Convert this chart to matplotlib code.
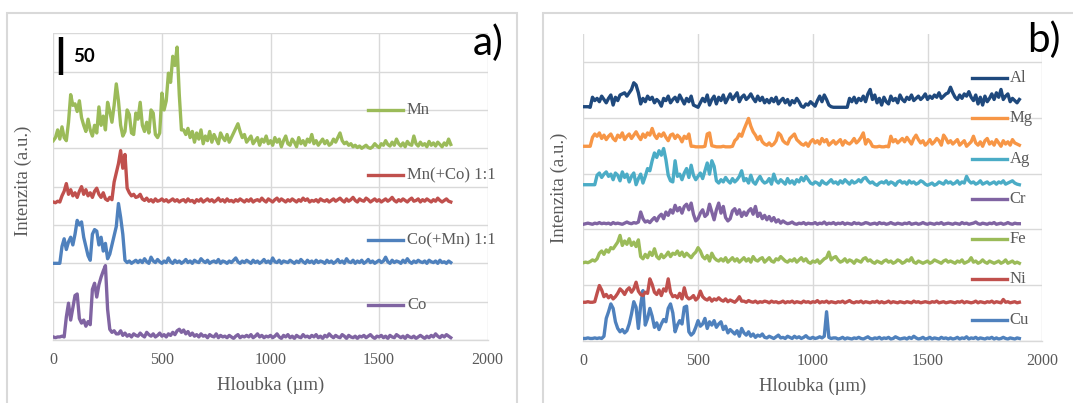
import numpy as np
import matplotlib
matplotlib.use("Agg")
import matplotlib.pyplot as plt
from matplotlib.lines import Line2D
from matplotlib.patches import Rectangle

# ---------------- data: panel a (depth step 10 um, intensities in a.u.) ----------------
mn = [
    10, 14, 24, 12, 28, 14, 10, 34, 70, 56,
    58, 48, 62, 40, 30, 22, 38, 24, 16, 30,
    20, 54, 30, 42, 24, 60, 48, 34, 56, 84,
    62, 30, 16, 22, 50, 44, 20, 18, 46, 38,
    60, 30, 22, 34, 20, 50, 46, 18, 14, 20,
    72, 50, 62, 98, 86, 120, 108, 132, 70, 24,
    24, 18, 26, 14, 22, 8, 20, 12, 24, 6,
    16, 10, 22, 8, 18, 12, 6, 20, 14, 10,
    18, 8, 14, 20, 26, 32, 22, 14, 18, 8,
    12, 16, 6, 10, 14, 4, 12, 8, 16, 6,
    10, 4, 14, 8, 12, 2, 10, 16, 6, 4,
    12, 8, 2, 14, 6, 10, 4, 12, 8, 18,
    6, 10, 4, 8, 12, 6, 10, 4, 6, 12,
    8, 14, 20, 10, 6, 8, 4, 6, 2, 4,
    1, 3, 0, 2, 4, 1, 0, 2, 6, 3,
    1, 6, 4, 10, 5, 3, 8, 4, 12, 6,
    3, 7, 2, 9, 5, 4, 16, 6, 3, 8,
    4, 6, 2, 9, 4, 7, 3, 8, 5, 2,
    7, 4, 12, 5,
]
mn_co = [
    2, 1, 3, 2, 10, 16, 26, 12, 18, 10,
    14, 8, 16, 22, 12, 18, 10, 14, 8, 16,
    20, 12, 8, 14, 6, 4, 8, 5, 28, 40,
    52, 69, 46, 64, 20, 14, 10, 12, 8, 9,
    12, 6, 4, 7, 3, 5, 2, 6, 3, 4,
    6, 3, 5, 2, 4, 6, 3, 5, 2, 4,
    5, 2, 6, 3, 4, 1, 5, 3, 6, 2,
    4, 6, 3, 5, 2, 4, 7, 3, 5, 2,
    6, 3, 4, 2, 5, 3, 6, 4, 2, 5,
    3, 6, 2, 4, 5, 3, 7, 4, 2, 6,
    4, 2, 5, 7, 3, 6, 4, 2, 5, 3,
    6, 4, 2, 5, 3, 7, 4, 6, 2, 4,
    3, 5, 2, 6, 4, 3, 5, 2, 4, 6,
    3, 5, 7, 4, 2, 6, 3, 5, 8, 4,
    2, 6, 4, 3, 7, 5, 2, 4, 6, 3,
    5, 2, 4, 6, 3, 5, 8, 4, 2, 5,
    3, 6, 4, 2, 5, 7, 3, 4, 6, 2,
    5, 3, 6, 4, 2, 5, 3, 7, 4, 2,
    4, 6, 3, 2,
]
co_mn = [
    2, 2, 2, 2, 24, 34, 20, 30, 36, 26,
    40, 58, 52, 56, 36, 24, 12, 6, 40, 46,
    44, 26, 36, 18, 28, 8, 14, 26, 38, 50,
    80, 62, 40, 6, 3, 5, 2, 4, 6, 3,
    6, 3, 8, 4, 2, 10, 5, 3, 7, 4,
    2, 5, 3, 9, 4, 2, 6, 3, 5, 2,
    4, 7, 3, 5, 2, 6, 4, 3, 8, 5,
    3, 6, 2, 4, 5, 3, 7, 2, 5, 4,
    2, 5, 3, 6, 9, 4, 2, 5, 3, 6,
    4, 2, 6, 3, 5, 2, 4, 7, 3, 5,
    2, 9, 4, 3, 6, 2, 5, 4, 3, 6,
    4, 2, 5, 3, 7, 4, 2, 6, 3, 5,
    2, 6, 3, 5, 4, 2, 6, 3, 5, 2,
    4, 7, 3, 5, 2, 8, 4, 3, 6, 2,
    5, 3, 6, 2, 4, 7, 3, 5, 2, 4,
    6, 3, 5, 10, 4, 2, 6, 3, 5, 4,
    2, 6, 3, 8, 4, 2, 5, 3, 6, 4,
    3, 5, 2, 6, 4, 3, 5, 2, 6, 3,
    4, 2, 5, 3,
]
co = [
    4, 3, 4, 4, 5, 4, 30, 48, 26, 42,
    58, 60, 28, 22, 26, 18, 24, 20, 66, 74,
    56, 72, 82, 90, 97, 40, 14, 10, 12, 8,
    8, 12, 6, 9, 5, 7, 4, 8, 6, 5,
    9, 6, 4, 10, 7, 5, 8, 4, 6, 9,
    5, 7, 4, 8, 6, 10, 7, 12, 14, 10,
    13, 8, 11, 6, 9, 5, 7, 4, 8, 5,
    6, 3, 7, 5, 4, 8, 3, 6, 4, 5,
    3, 6, 4, 2, 5, 7, 3, 5, 4, 6,
    4, 7, 3, 5, 8, 4, 6, 3, 5, 4,
    6, 3, 5, 8, 4, 2, 6, 4, 7, 3,
    5, 2, 6, 4, 3, 7, 4, 5, 3, 6,
    4, 7, 3, 5, 2, 6, 4, 8, 5, 3,
    6, 4, 3, 7, 5, 2, 6, 4, 3, 5,
    2, 5, 4, 6, 3, 5, 7, 4, 2, 5,
    4, 6, 3, 5, 2, 6, 4, 3, 7, 5,
    3, 5, 2, 6, 4, 3, 5, 2, 4, 6,
    4, 2, 5, 3, 6, 4, 8, 5, 3, 6,
    4, 7, 5, 3,
]

# ---------------- data: panel b (depth step 10 um, intensities in a.u.) ----------------
al = [
    5, 5, 5, 4, 22, 16, 20, 14, 24, 18,
    12, 20, 26, 8, 22, 16, 26, 28, 30, 24,
    30, 36, 48, 44, 30, 10, 20, 14, 24, 18,
    22, 12, 18, 14, 6, 20, 16, 24, 12, 18,
    22, 14, 26, 18, 10, 20, 14, 24, 8, 6,
    4, 12, 20, 14, 26, 8, 18, 24, 10, 22,
    16, 26, 12, 20, 28, 18, 24, 30, 14, 22,
    26, 18, 22, 28, 20, 14, 24, 16, 22, 12,
    18, 12, 20, 14, 22, 10, 16, 20, 12, 18,
    8, 16, 12, 20, 14, 6, 4, 10, 8, 14,
    10, 6, 16, 24, 14, 26, 18, 8, 5, 4,
    4, 4, 4, 4, 4, 4, 20, 14, 22, 12,
    20, 16, 24, 14, 28, 36, 18, 26, 12, 20,
    8, 22, 14, 10, 24, 16, 20, 12, 26, 18,
    14, 22, 18, 26, 16, 20, 24, 18, 22, 28,
    18, 24, 20, 26, 22, 30, 20, 24, 28, 30,
    40, 30, 22, 18, 26, 20, 28, 24, 32, 22,
    16, 26, 10, 22, 8, 24, 14, 20, 28, 18,
    30, 22, 36, 18, 24, 28, 14, 20, 16, 12,
    18,
]
mg = [
    4, 4, 4, 4, 20, 26, 22, 28, 18, 24,
    16, 22, 26, 18, 14, 24, 20, 28, 16, 22,
    26, 18, 24, 30, 22, 16, 26, 20, 28, 24,
    36, 24, 18, 26, 22, 28, 20, 14, 24, 26,
    18, 24, 20, 12, 22, 18, 26, 4, 4, 3,
    3, 3, 3, 4, 26, 28, 5, 4, 3, 3,
    3, 4, 3, 3, 3, 4, 14, 18, 26, 22,
    34, 44, 54, 40, 30, 24, 16, 22, 12, 8,
    6, 10, 5, 8, 14, 28, 24, 14, 10, 8,
    18, 22, 26, 16, 12, 8, 6, 10, 4, 12,
    16, 10, 14, 8, 18, 12, 16, 6, 10, 14,
    8, 12, 16, 6, 14, 10, 8, 12, 18, 10,
    14, 20, 28, 8, 16, 12, 4, 3, 3, 4,
    3, 3, 4, 3, 22, 12, 16, 10, 14, 18,
    12, 20, 14, 8, 18, 24, 16, 10, 14, 6,
    10, 16, 8, 12, 18, 14, 6, 24, 18, 10,
    14, 8, 12, 16, 6, 10, 14, 4, 8, 12,
    22, 10, 6, 12, 4, 14, 18, 8, 12, 6,
    16, 10, 4, 14, 8, 12, 6, 16, 10, 8,
    6,
]
ag = [
    5, 5, 5, 5, 5, 5, 22, 26, 18, 24,
    28, 20, 24, 14, 26, 22, 12, 28, 18, 24,
    10, 20, 26, 5, 16, 24, 8, 20, 34, 30,
    48, 62, 54, 66, 58, 70, 50, 22, 12, 10,
    48, 20, 24, 14, 26, 34, 18, 40, 22, 14,
    20, 26, 16, 30, 44, 24, 48, 38, 12, 8,
    14, 10, 18, 12, 8, 16, 10, 14, 20, 30,
    12, 16, 8, 22, 10, 6, 14, 20, 12, 8,
    10, 16, 6, 24, 12, 8, 14, 10, 6, 16,
    8, 12, 6, 14, 10, 18, 12, 20, 14, 8,
    6, 10, 8, 4, 12, 8, 6, 10, 14, 8,
    10, 6, 12, 8, 14, 10, 6, 12, 8, 10,
    14, 10, 16, 18, 12, 8, 10, 6, 4, 8,
    10, 8, 12, 6, 10, 8, 4, 10, 12, 8,
    10, 6, 12, 8, 10, 6, 8, 12, 10, 6,
    4, 6, 8, 4, 6, 10, 8, 6, 12, 8,
    10, 6, 8, 12, 6, 10, 8, 20, 12, 8,
    10, 6, 8, 12, 6, 8, 10, 6, 8, 10,
    6, 10, 8, 12, 6, 8, 10, 12, 8, 6,
    5,
]
cr = [
    4, 5, 6, 5, 4, 6, 5, 7, 5, 6,
    5, 6, 4, 7, 5, 6, 5, 4, 6, 8,
    6, 5, 7, 6, 8, 26, 14, 8, 10, 7,
    12, 16, 10, 18, 22, 14, 26, 20, 30, 24,
    38, 28, 34, 24, 36, 40, 30, 42, 22, 10,
    14, 24, 30, 18, 22, 40, 26, 12, 30, 42,
    24, 36, 16, 10, 14, 28, 32, 22, 30, 18,
    26, 20, 28, 32, 22, 36, 18, 24, 14, 20,
    12, 18, 10, 16, 8, 12, 6, 10, 7, 5,
    6, 8, 5, 4, 6, 5, 7, 4, 6, 5,
    5, 7, 4, 6, 5, 8, 4, 6, 5, 7,
    4, 6, 5, 7, 4, 6, 5, 4, 7, 5,
    6, 4, 5, 7, 6, 4, 5, 6, 4, 7,
    5, 6, 4, 5, 7, 5, 4, 6, 5, 4,
    6, 5, 7, 4, 5, 6, 4, 5, 7, 5,
    4, 6, 5, 4, 6, 5, 7, 4, 5, 6,
    5, 4, 6, 5, 4, 7, 5, 6, 4, 5,
    6, 8, 5, 4, 6, 5, 4, 6, 5, 7,
    4, 5, 6, 4, 5, 7, 5, 4, 6, 5,
    5,
]
fe = [
    5, 6, 5, 7, 10, 8, 12, 22, 26, 20,
    28, 24, 32, 30, 36, 42, 54, 36, 44, 38,
    48, 36, 42, 34, 46, 16, 12, 20, 14, 24,
    18, 30, 16, 12, 20, 14, 18, 24, 16, 22,
    20, 26, 18, 24, 16, 22, 18, 14, 20, 24,
    32, 26, 16, 12, 18, 8, 22, 14, 10, 8,
    12, 8, 14, 6, 10, 14, 8, 12, 6, 10,
    14, 8, 12, 6, 16, 10, 8, 12, 14, 6,
    10, 14, 8, 6, 12, 10, 16, 12, 8, 6,
    10, 8, 12, 6, 10, 14, 8, 12, 6, 4,
    8, 6, 10, 4, 8, 12, 14, 24, 10, 14,
    16, 10, 6, 8, 12, 6, 10, 8, 4, 10,
    8, 6, 12, 14, 8, 10, 6, 4, 8, 6,
    4, 8, 10, 6, 8, 4, 6, 10, 8, 4,
    6, 10, 8, 14, 6, 4, 8, 6, 4, 6,
    8, 4, 6, 10, 8, 6, 4, 8, 10, 6,
    8, 6, 4, 8, 6, 10, 4, 6, 8, 14,
    6, 8, 4, 6, 10, 6, 4, 8, 6, 4,
    6, 8, 4, 6, 10, 4, 6, 8, 4, 6,
    4,
]
ni = [
    4, 4, 5, 4, 4, 5, 20, 34, 26, 14,
    18, 12, 16, 10, 14, 20, 28, 24, 18, 26,
    30, 22, 28, 40, 24, 18, 16, 22, 20, 46,
    36, 22, 18, 26, 16, 28, 24, 46, 22, 14,
    16, 12, 20, 10, 30, 14, 10, 12, 16, 8,
    12, 24, 14, 10, 8, 12, 6, 10, 8, 12,
    8, 6, 10, 5, 8, 6, 4, 8, 14, 6,
    6, 4, 7, 5, 4, 6, 3, 5, 4, 6,
    5, 3, 6, 4, 5, 3, 4, 6, 3, 5,
    4, 6, 3, 5, 4, 3, 6, 4, 5, 3,
    5, 4, 7, 3, 5, 4, 6, 3, 5, 4,
    3, 5, 4, 6, 3, 5, 7, 4, 3, 5,
    4, 6, 3, 5, 4, 3, 5, 4, 6, 3,
    5, 3, 4, 6, 3, 5, 4, 3, 5, 4,
    3, 5, 4, 3, 6, 4, 5, 3, 4, 5,
    4, 3, 5, 4, 6, 3, 4, 5, 3, 4,
    5, 4, 3, 5, 4, 6, 3, 5, 4, 3,
    4, 6, 3, 5, 4, 3, 5, 4, 6, 3,
    5, 4, 3, 9, 4, 5, 3, 4, 5, 3,
    4,
]
cu = [
    4, 4, 5, 4, 4, 5, 4, 5, 4, 8,
    40, 52, 66, 58, 34, 22, 16, 20, 14, 18,
    30, 48, 70, 60, 22, 64, 90, 28, 40, 58,
    44, 24, 32, 20, 30, 38, 34, 58, 66, 50,
    16, 28, 36, 30, 60, 62, 16, 10, 14, 24,
    36, 26, 30, 40, 22, 34, 28, 36, 24, 30,
    34, 20, 26, 14, 20, 16, 12, 18, 8, 22,
    14, 10, 16, 8, 12, 6, 10, 8, 12, 6,
    5, 8, 6, 4, 7, 10, 5, 6, 4, 8,
    6, 4, 8, 5, 7, 4, 6, 9, 5, 4,
    6, 4, 5, 7, 5, 8, 52, 6, 4, 5,
    5, 3, 4, 6, 3, 5, 4, 3, 5, 4,
    6, 4, 3, 5, 7, 4, 3, 5, 4, 6,
    3, 5, 4, 6, 3, 4, 7, 5, 3, 4,
    5, 3, 6, 4, 8, 5, 3, 4, 6, 3,
    4, 6, 3, 5, 4, 3, 6, 4, 5, 3,
    5, 3, 4, 6, 3, 5, 4, 7, 3, 5,
    4, 6, 3, 5, 4, 3, 5, 4, 6, 3,
    5, 3, 4, 6, 4, 3, 5, 4, 3, 5,
    4,
]

labels_a = ["Mn", "Mn(+Co) 1:1", "Co(+Mn) 1:1", "Co"]
labels_b = ["Al", "Mg", "Ag", "Cr", "Fe", "Ni", "Cu"]
xticks = [0, 500, 1000, 1500, 2000]
STEP = 10  # depth step in um

# ---------------- styling ----------------
GRID = "#d9d9d9"
TXT = "#595959"
SERIF = ["Liberation Serif", "DejaVu Serif"]
SANS = ["Lato", "DejaVu Sans"]
LW = 2.4
plt.rcParams["font.family"] = SERIF

colors_a = ["#9BBB59", "#C0504D", "#4F81BD", "#8064A2"]
offsets_a = [250, 178, 98, 0]
colors_b = ["#1F497D", "#F79646", "#4BACC6", "#8064A2", "#9BBB59", "#C0504D", "#4F81BD"]
offsets_b = [415, 345, 275, 205, 135, 65, 0]

W, H = 1073, 403
fig = plt.figure(figsize=(W / 100, H / 100), dpi=100)

# panel frames
for x0, x1 in [(7, 517), (543, 1080)]:
    fig.add_artist(Rectangle((x0 / W, -0.05), (x1 - x0) / W, (H - 13) / H + 0.05,
                             transform=fig.transFigure, fill=False,
                             edgecolor=GRID, linewidth=1.5))


def style_axes(ax, ymax, ystep):
    ax.set_xlim(0, 2000)
    ax.set_ylim(0, ymax)
    ax.set_xticks(xticks)
    ax.set_yticks(np.arange(0, ymax + 0.1, ystep))
    ax.set_yticklabels([])
    ax.grid(True, color=GRID, linewidth=1.0)
    ax.set_axisbelow(True)
    for s in ("top", "right", "left"):
        ax.spines[s].set_visible(False)
    ax.spines["bottom"].set_color(GRID)
    ax.spines["bottom"].set_linewidth(1.0)
    ax.tick_params(length=0, labelsize=11.5, labelcolor=TXT, pad=9)
    ax.set_xlabel("Hloubka (\u00b5m)", fontsize=13.5, color=TXT, labelpad=6)
    ax.set_ylabel("Intenzita (a.u.)", fontsize=13.5, color=TXT)


def draw_legend(ax, labels, colors, ys, x0, x1, xt):
    for lab, c, y in zip(labels, colors, ys):
        ax.add_line(Line2D([x0, x1], [y, y], color=c, lw=LW,
                           transform=ax.transAxes, clip_on=False))
        ax.text(xt, y, lab, transform=ax.transAxes, va="center", ha="left",
                fontsize=12, color=TXT)


# ---------------- panel a ----------------
axa = fig.add_axes([53.3 / W, (H - 340) / H, 434.4 / W, 306.7 / H])
style_axes(axa, 400, 50)
for vals, c, off in zip([co, co_mn, mn_co, mn], colors_a[::-1], offsets_a[::-1]):
    d = np.arange(len(vals)) * STEP
    axa.plot(d, np.array(vals) + off, color=c, lw=LW, solid_joinstyle="round")
axa.yaxis.set_label_coords(-0.049, 0.518)
draw_legend(axa, labels_a, colors_a, [0.750, 0.538, 0.326, 0.114], 0.7245, 0.805, 0.814)
# 50 a.u. scale bar
axa.plot([35, 35], [345, 395], color="black", lw=3.2, solid_capstyle="butt")
axa.text(90, 370, "50", fontsize=13.5, fontweight="bold", family=SANS,
         va="center", ha="left")
fig.text(503 / W, 1 - 43 / H, "a)", fontsize=29, family=SANS,
         ha="right", va="center")

# ---------------- panel b ----------------
axb = fig.add_axes([583.3 / W, (H - 340.7) / H, 459.0 / W, 306.4 / H])
style_axes(axb, 550, 100)
axb.set_yticks([0, 100, 200, 300, 400, 500])
axb.set_yticklabels([])
series_b = [al, mg, ag, cr, fe, ni, cu]
for vals, c, off in list(zip(series_b, colors_b, offsets_b))[::-1]:
    d = np.arange(len(vals)) * STEP
    axb.plot(d, np.array(vals) + off, color=c, lw=LW, solid_joinstyle="round")
axb.yaxis.set_label_coords(-0.034, 0.498)
draw_legend(axb, labels_b, colors_b,
            [0.858, 0.726, 0.593, 0.462, 0.331, 0.200, 0.068], 0.846, 0.923, 0.929)
fig.text(1061 / W, 1 - 40 / H, "b)", fontsize=29, family=SANS,
         ha="right", va="center")

fig.savefig("out.png", dpi=100)
